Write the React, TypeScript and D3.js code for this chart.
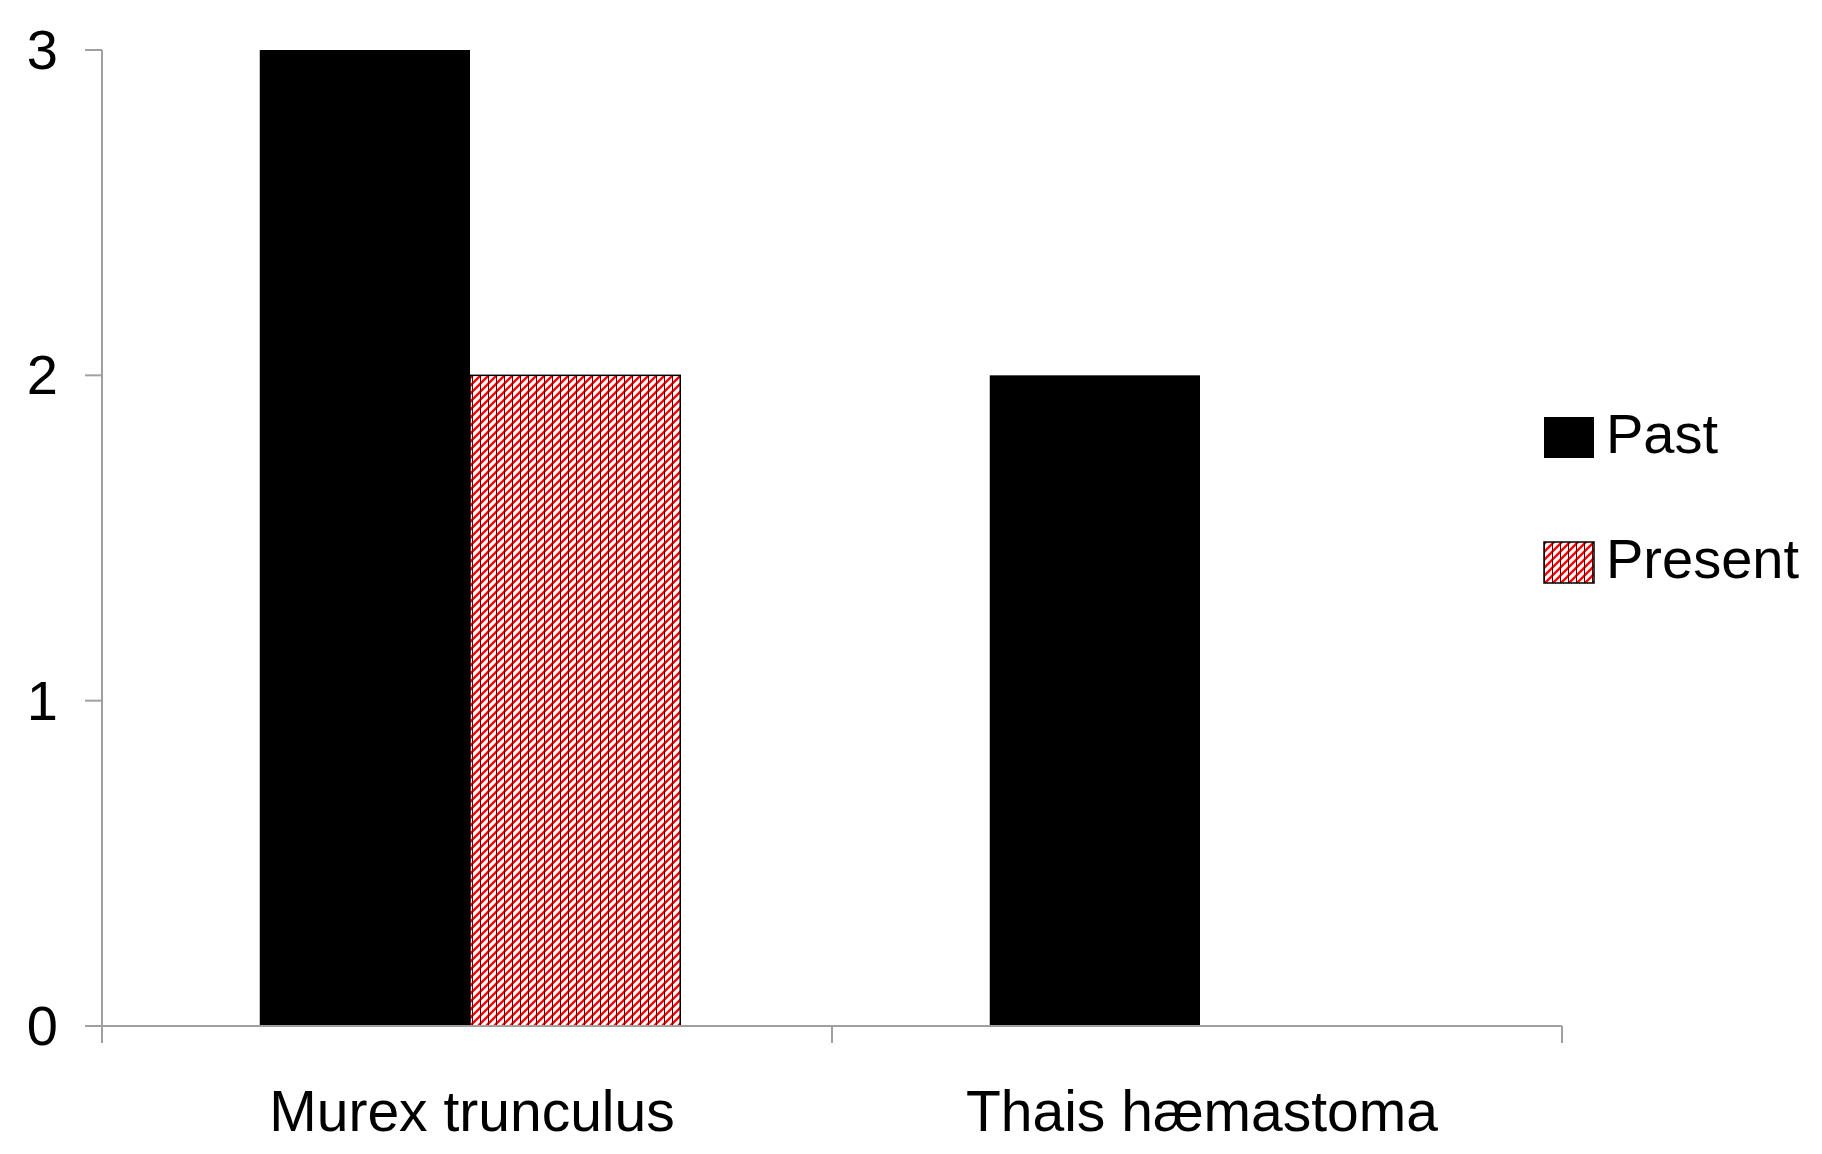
import React from "react";
import * as d3 from "d3";

const categories = ["Murex trunculus", "Thais hæmastoma"];
const seriesNames = ["Past", "Present"];
const pastValues = [3, 2];
const presentValues = [2, 0];
const yTicks = [0, 1, 2, 3];

const W = 1822;
const H = 1154;
const FONT = "'Liberation Sans', Arial, sans-serif";

export default function App() {
  const y = d3.scaleLinear().domain([0, 3]).range([1026, 50]);
  const x0 = d3.scaleBand<string>().domain(categories).range([102, 1562]).paddingInner(0).paddingOuter(0);
  const bw = x0.bandwidth();
  const gap = bw * 0.212;
  const shift = 3;
  const x1 = d3.scaleBand<string>().domain(seriesNames).range([gap + shift, bw - gap + shift]).padding(0);

  const seriesValues: Record<string, number[]> = { Past: pastValues, Present: presentValues };
  const fills: Record<string, string> = { Past: "#000000", Present: "url(#hatch)" };

  const axisColor = "#a0a0a0";
  const xTickPositions = [x0.range()[0], ...categories.map((c) => (x0(c) as number) + bw)];

  return (
    <svg width={W} height={H} style={{ position: "absolute", left: 0, top: 0, background: "#fff" }}>
      <defs>
        <pattern id="hatch" width={8} height={8} patternUnits="userSpaceOnUse">
          <rect width={8} height={8} fill="#fff" />
          <path d="M0,8 L8,0 M-2,2 L2,-2 M6,10 L10,6" stroke="#ff0000" strokeWidth={2.4} />
          <line x1={0.5} y1={0} x2={0.5} y2={8} stroke="#5a0000" strokeWidth={1} />
        </pattern>
      </defs>
      <rect width={W} height={H} fill="#fff" />

      {/* bars */}
      {categories.map((c, i) =>
        seriesNames.map((s) => {
          const v = seriesValues[s][i];
          if (!v) return null;
          const bx = (x0(c) as number) + (x1(s) as number);
          return (
            <rect
              key={c + s}
              x={bx}
              y={y(v)}
              width={x1.bandwidth()}
              height={y(0) - y(v)}
              fill={fills[s]}
              stroke={s === "Present" ? "#000" : "none"}
              strokeWidth={s === "Present" ? 1.5 : 0}
            />
          );
        })
      )}

      {/* y axis */}
      <line x1={102} y1={y(3)} x2={102} y2={y(0)} stroke={axisColor} strokeWidth={2} />
      {yTicks.map((t) => (
        <g key={t}>
          <line x1={85} y1={y(t)} x2={102} y2={y(t)} stroke={axisColor} strokeWidth={2} />
          <text x={58} y={y(t) + 19} textAnchor="end" fontFamily={FONT} fontSize={56} fill="#000">
            {t}
          </text>
        </g>
      ))}

      {/* x axis */}
      <line x1={85} y1={y(0)} x2={x0.range()[1]} y2={y(0)} stroke={axisColor} strokeWidth={2} />
      {xTickPositions.map((p, i) => (
        <line key={i} x1={p} y1={y(0)} x2={p} y2={y(0) + 17} stroke={axisColor} strokeWidth={2} />
      ))}
      {categories.map((c) => (
        <text
          key={c}
          x={(x0(c) as number) + bw / 2 + 5}
          y={1131}
          textAnchor="middle"
          fontFamily={FONT}
          fontSize={57}
          fill="#000"
        >
          {c}
        </text>
      ))}

      {/* legend */}
      {seriesNames.map((s, i) => {
        const ly = 417 + i * 125;
        return (
          <g key={s}>
            <rect
              x={1544}
              y={ly}
              width={50}
              height={41}
              fill={fills[s]}
              stroke="#000"
              strokeWidth={s === "Present" ? 1.5 : 0}
            />
            <text x={1606} y={ly + 36} fontFamily={FONT} fontSize={56} fill="#000">
              {s}
            </text>
          </g>
        );
      })}
    </svg>
  );
}
